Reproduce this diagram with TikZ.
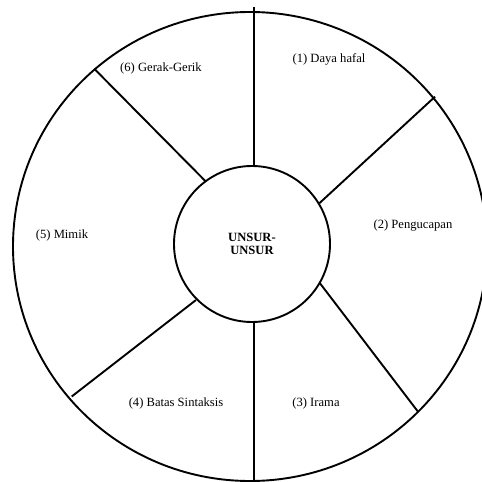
\documentclass[tikz,border=0pt]{standalone}
\usepackage{fontspec}
\setmainfont{Liberation Serif}
\begin{document}
\begin{tikzpicture}[x=1pt,y=-1pt,
  lbl/.style={font=\fontsize{12.6}{13.3}\selectfont, inner sep=0pt},
  spoke/.style={draw, line width=1.9pt}]
\useasboundingbox (0,0) rectangle (482,482);
\draw[line width=1.9pt] (250,246.5) ellipse [x radius=237pt, y radius=234.5pt];
\node[draw, circle, minimum size=156pt, inner sep=0pt, line width=1.9pt,
  font=\bfseries\fontsize{12.6}{13.3}\selectfont, align=center] (c) at (252,244) {UNSUR-\\UNSUR};
% spoke end points
\coordinate (a1) at (254,7);     \coordinate (b1) at (254,167);
\coordinate (a2) at (435,96.7);  \coordinate (b2) at (319.3,203.3);
\coordinate (a3) at (418,411.7); \coordinate (b3) at (320,283.3);
\coordinate (a4) at (254,481);   \coordinate (b4) at (254,321);
\coordinate (a5) at (71.7,396.5);\coordinate (b5) at (196,300);
\coordinate (a6) at (94.3,68.8); \coordinate (b6) at (206,181.7);
\foreach \i in {1,...,6} { \path[spoke] (a\i) -- (b\i); }
% labels
\node[lbl] (l1) at (329,59) {(1) Daya hafal};
\node[lbl] (l2) at (413,225) {(2) Pengucapan};
\node[lbl] (l3) at (316,403) {(3) Irama};
\node[lbl] (l4) at (176,403) {(4) Batas Sintaksis};
\node[lbl] (l5) at (62,235) {(5) Mimik};
\node[lbl] (l6) at (161,68) {(6) Gerak-Gerik};
\end{tikzpicture}
\end{document}
